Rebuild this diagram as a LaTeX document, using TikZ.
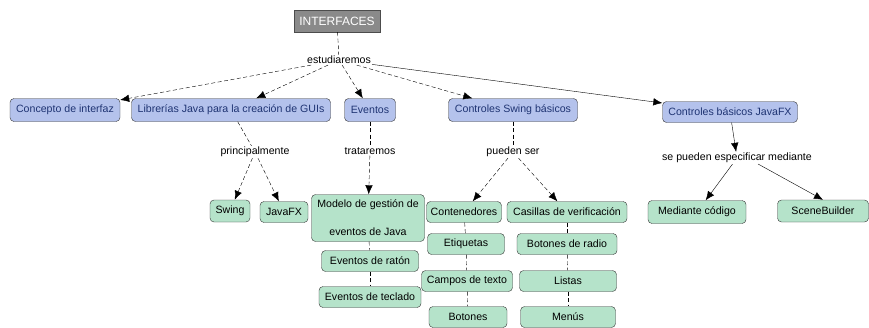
\documentclass[tikz,border=0pt]{standalone}
\usepackage{fontspec}
\setmainfont{Liberation Sans}
\usepackage{xcolor}
\usetikzlibrary{arrows.meta}
\definecolor{conceptblue}{HTML}{B4C2EC}
\definecolor{leafgreen}{HTML}{B5E3CA}
\definecolor{titlegray}{HTML}{8A8A8A}
\definecolor{textblue}{HTML}{1F3473}

\begin{document}
\begin{tikzpicture}[x=1pt, y=-1pt,
  every node/.style={font=\fontsize{10.6}{12}\selectfont, inner sep=1pt},
  title/.style={draw=black!70, fill=titlegray, text=white, font=\fontsize{12}{14}\selectfont, minimum width=86pt, minimum height=22pt},
  concept/.style={draw=black!80, fill=conceptblue, text=textblue, rounded corners=4pt, minimum height=23pt, inner sep=3pt},
  leaf/.style={draw=black!80, fill=leafgreen, rounded corners=4pt, minimum height=21pt, inner sep=3pt},
  linkdash/.style={thin, dash pattern=on 4pt off 2.5pt},
  arrowdash/.style={linkdash, -{Latex[length=9pt,width=7.5pt]}},
  arrowsolid/.style={thin, -{Latex[length=9pt,width=7.5pt]}}]
\useasboundingbox (0,0) rectangle (869,327);

% === Root and first level ===
\node[title] (root) at (337,21) {INTERFACES};
\node (study) at (339,60) {estudiaremos};
\node[concept, minimum width=110pt] (concepto) at (65,110) {Concepto de interfaz};
\node[concept, minimum width=199pt] (librerias) at (231,110) {Librerías Java para la creación de GUIs};
\node[concept, minimum width=51pt] (eventos) at (370,110) {Eventos};
\node[concept, minimum width=129pt] (swingctl) at (513,110) {Controles Swing básicos};
\node[concept, minimum width=135pt, minimum height=21pt] (fxctl) at (730,112) {Controles básicos JavaFX};

\draw[linkdash] (root) -- (study);
\draw[arrowdash] (study) -- (concepto);
\draw[arrowdash] (study) -- (librerias);
\draw[arrowdash] (study) -- (eventos);
\draw[arrowdash] (study) -- (swingctl);
\draw[arrowsolid] (study) -- (fxctl);

% === Librerias ===
\node (princ) at (255,152) {principalmente};
\node[leaf, minimum width=40pt, minimum height=22pt] (swing) at (230,211) {Swing};
\node[leaf, minimum width=48pt] (javafx) at (284,212) {JavaFX};
\draw[linkdash] (librerias) -- (princ);
\draw[arrowdash] (princ) -- (swing);
\draw[arrowdash] (princ) -- (javafx);

% === Eventos ===
\node (trat) at (370,151) {trataremos};
\node[leaf, minimum width=113pt, minimum height=47pt, align=center, font=\fontsize{10.6}{28}\selectfont] (modelo) at (368,218) {Modelo de gestión de\\eventos de Java};
\node[leaf, minimum width=97pt] (raton) at (370,261) {Eventos de ratón};
\node[leaf, minimum width=102pt] (teclado) at (370,297) {Eventos de teclado};
\draw[linkdash] (eventos) -- (trat);
\draw[arrowdash] (trat) -- (modelo);
\draw[linkdash] (modelo) -- (raton);
\draw[linkdash] (raton) -- (teclado);

% === Controles Swing: two stacked columns ===
\node (pueden) at (513,152) {pueden ser};
\foreach \name/\txt/\x/\y/\w in {cont/Contenedores/464/212/75, etiq/Etiquetas/466/244/77,
    campos/Campos de texto/467/281/91, boton/Botones/468/317/78,
    casil/Casillas de verificación/567/212/120, radio/Botones de radio/567/244/100,
    listas/Listas/568/281/97, menus/Menús/568/317/95}
  \node[leaf, minimum width=\w pt] (\name) at (\x,\y) {\txt};
\draw[linkdash] (swingctl) -- (pueden);
\draw[arrowdash] (pueden) -- (cont);
\draw[arrowdash] (pueden) -- (casil);
\foreach \a/\b in {cont/etiq, etiq/campos, campos/boton, casil/radio, radio/listas, listas/menus}
  \draw[linkdash] (\a) -- (\b);

% === Controles JavaFX ===
\node (mediante) at (737,158) {se pueden especificar mediante};
\node[leaf, minimum width=98pt, minimum height=23pt] (codigo) at (697,212) {Mediante código};
\node[leaf, minimum width=91pt, minimum height=22pt] (scene) at (823,211) {SceneBuilder};
\draw[arrowsolid] (fxctl) -- (mediante);
\draw[arrowsolid] (mediante) -- (codigo);
\draw[arrowsolid] (mediante.east) ++(-55,6) coordinate (mfrom) (mfrom) -- (scene.north);
\end{tikzpicture}
\end{document}
